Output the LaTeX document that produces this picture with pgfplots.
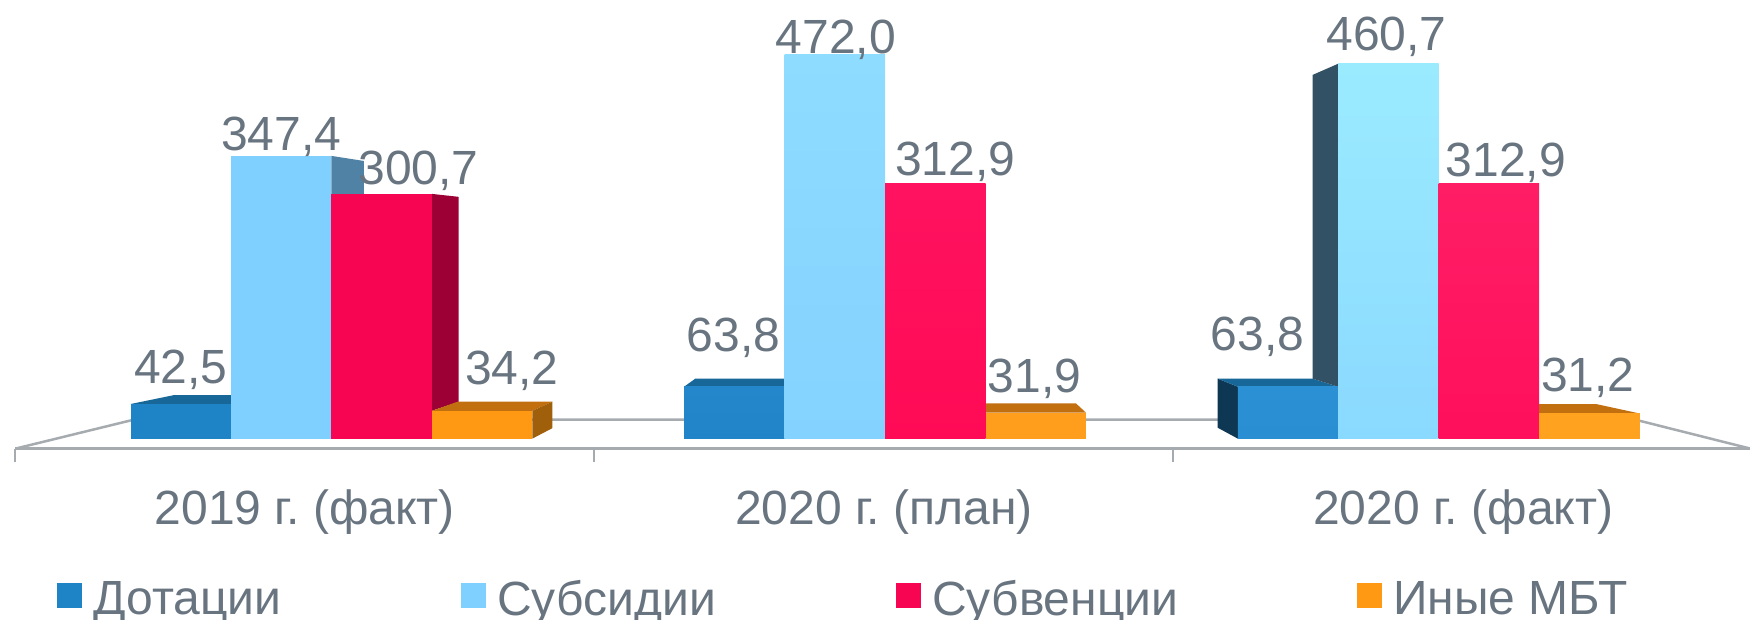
\documentclass[border=0pt]{standalone}
\usepackage{fontspec}
\setmainfont{Liberation Sans}
\usepackage{pgfplots}
\pgfplotsset{compat=1.18}
\frenchspacing
\definecolor{txt}{HTML}{68747F}
\definecolor{floorc}{HTML}{A6ABB0}
\definecolor{blue1t}{HTML}{176799}
\definecolor{lb1s}{HTML}{5082A6}
\definecolor{red1s}{HTML}{9C0034}
\definecolor{ora1t}{HTML}{C2700F}
\definecolor{ora1s}{HTML}{A05F0B}
\definecolor{blue3s}{HTML}{0E3754}
\definecolor{lb3s}{HTML}{325164}
\definecolor{c1}{HTML}{1E84C6}
\definecolor{c2}{HTML}{7FCFFF}
\definecolor{c3}{HTML}{F70552}
\definecolor{c4}{HTML}{FF9914}
\definecolor{b2t}{HTML}{2487CB}
\definecolor{b2b}{HTML}{2284C8}
\definecolor{l2t}{HTML}{8EDCFF}
\definecolor{l2b}{HTML}{84D2FF}
\definecolor{r2t}{HTML}{FF1260}
\definecolor{r2b}{HTML}{FF0A55}
\definecolor{o2}{HTML}{FF9E1C}
\definecolor{b3t}{HTML}{2C90D4}
\definecolor{b3b}{HTML}{2A8ED2}
\definecolor{l3t}{HTML}{9BEBFF}
\definecolor{l3b}{HTML}{8AD9FF}
\definecolor{r3t}{HTML}{FF1D66}
\definecolor{r3b}{HTML}{FF0F5C}
\definecolor{o3}{HTML}{FFA21F}
\pgfkeys{/pgf/number format/.cd,use comma,fixed,fixed zerofill,precision=1,assume math mode=true}
\pgfplotsset{
  fbar/.style={ybar,bar shift=0pt,bar width=90,draw=none,
    legend image code/.code={\fill[##1] (0pt,-4.2pt) rectangle (12.5pt,8.3pt);}},
  lab/.style 2 args={nodes near coords,
    nodes near coords style={anchor=base,xshift=#1,yshift=#2,text=txt,inner sep=0pt,
      font=\fontsize{24}{28}\selectfont}},
  poly/.style={draw=none,fill=#1,forget plot,mark=none,sharp plot},
}
\begin{document}
\begin{tikzpicture}
\path[use as bounding box] (0,0) rectangle (875pt,310pt);
\begin{axis}[
  at={(7.645pt,85.67pt)},anchor=south west,
  scale only axis,width=867.6pt,height=224.33pt,
  xmin=13.7,xmax=1568.4,ymin=-12.35,ymax=539,
  clip=false,
  axis x line=bottom,axis y line=none,
  x axis line style={-,floorc,line width=1.25pt},
  xtick={273,792,1311},
  xticklabels={2019 г. (факт),2020 г. (план),2020 г. (факт)},
  major tick length=0pt,
  xtick style={draw=none},
  xticklabel style={font=\fontsize{24}{28}\selectfont,text=txt,anchor=base,yshift=-37.7pt,inner sep=0pt},
  extra x ticks={13.7,532,1051},
  extra x tick labels={},
  extra tick style={major tick length=6.7pt,tick align=outside,
    xtick style={draw=floorc,line width=1pt}},
  legend style={at={(0.024,-0.379)},anchor=south west,draw=none,fill=none,inner sep=0pt,
    font=\fontsize{24}{28}\selectfont,text=txt,
    nodes={inner sep=0pt},/tikz/column sep=0pt},
  legend columns=4,
  legend cell align=left,
]
% floor
\addplot[floorc,line width=1.25pt,forget plot,mark=none,sharp plot] coordinates {(13.7,-12.35)(120,23.3)(1465,23.3)(1568.4,-12.35)};
% 3D sides, group 1
\addplot[poly=blue1t] coordinates {(117,42.5)(156,53.5)(207,53.5)(207,42.5)} --cycle;
\addplot[poly=lb1s] coordinates {(297,347.4)(326,341.2)(326,300.7)(297,300.7)} --cycle;
\addplot[poly=red1s] coordinates {(387,300.7)(411,297.1)(411,45.3)(387,34.2)} --cycle;
\addplot[poly=ora1t] coordinates {(387,34.2)(410,45.3)(495,45.3)(477,34.2)} --cycle;
\addplot[poly=ora1s] coordinates {(477,34.2)(495,45.3)(495,12.9)(477,0)} --cycle;
% group 2
\addplot[poly=blue1t] coordinates {(613,63.8)(623,73.7)(703,73.7)(703,63.8)} --cycle;
\addplot[poly=ora1t] coordinates {(883,31.9)(883,43.3)(964,43.3)(973,31.9)} --cycle;
% group 3
\addplot[poly=blue3s] coordinates {(1091,73.7)(1109,63.8)(1109,0)(1091,13.4)} --cycle;
\addplot[poly=blue1t] coordinates {(1091,73.7)(1176,73.7)(1199,63.8)(1109,63.8)} --cycle;
\addplot[poly=lb3s] coordinates {(1176,446.9)(1199,460.7)(1199,63.8)(1176,73.7)} --cycle;
\addplot[poly=ora1t] coordinates {(1379,31.2)(1379,42.5)(1430,42.5)(1468,31.2)} --cycle;
% bars, group 1 (legend series)
\addplot[fbar,fill=c1,lab={0pt}{10.2pt}] coordinates {(162,42.5)};
\addlegendentry{\hspace{5.5pt}\makebox[184pt][l]{Дотации}}
\addplot[fbar,fill=c2,lab={0pt}{2.9pt}] coordinates {(252,347.4)};
\addlegendentry{\hspace{5.5pt}\makebox[199.5pt][l]{Субсидии}}
\addplot[fbar,fill=c3,lab={18.4pt}{4.6pt}] coordinates {(342,300.7)};
\addlegendentry{\hspace{5.5pt}\makebox[212.5pt][l]{Субвенции}}
\addplot[fbar,fill=c4,lab={14.8pt}{13pt}] coordinates {(432,34.2)};
\addlegendentry{\hspace{5.5pt}\makebox[125pt][l]{Иные МБТ}}
% group 2
\addplot[fbar,forget plot,top color=b2t,bottom color=b2b,lab={-0.4pt}{17.4pt}] coordinates {(658,63.8)};
\addplot[fbar,forget plot,top color=l2t,bottom color=l2b,lab={0.5pt}{0.5pt}] coordinates {(748,472.0)};
\addplot[fbar,forget plot,top color=r2t,bottom color=r2b,lab={10pt}{4.4pt}] coordinates {(838,312.9)};
\addplot[fbar,forget plot,fill=o2,lab={-0.7pt}{9.9pt}] coordinates {(928,31.9)};
% group 3
\addplot[fbar,forget plot,top color=b3t,bottom color=b3b,lab={-15.2pt}{18.3pt}] coordinates {(1154,63.8)};
\addplot[fbar,forget plot,top color=l3t,bottom color=l3b,lab={-1pt}{6.8pt}] coordinates {(1244,460.7)};
\addplot[fbar,forget plot,top color=r3t,bottom color=r3b,lab={8.4pt}{3.6pt}] coordinates {(1334,312.9)};
\addplot[fbar,forget plot,fill=o3,lab={-0.7pt}{10.8pt}] coordinates {(1424,31.2)};
\end{axis}
\end{tikzpicture}
\end{document}
